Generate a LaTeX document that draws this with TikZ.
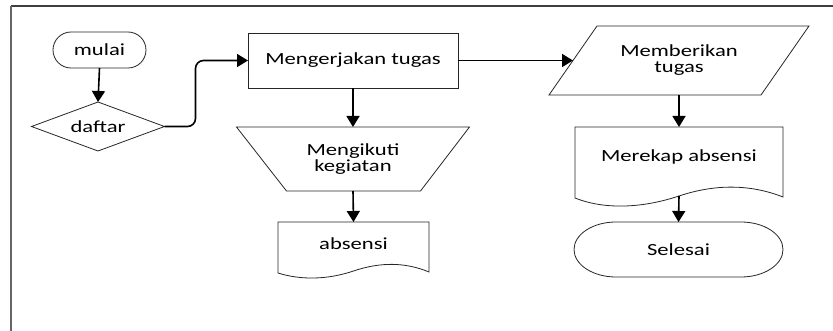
\documentclass[tikz,border=0pt]{standalone}
\usepackage{fontspec}
\setmainfont{Carlito}[FakeStretch=1.33]
\usetikzlibrary{arrows.meta,calc}
\tikzset{
  txt/.style={font=\fontsize{17}{16}\selectfont, inner sep=0pt, outer sep=0pt, align=center},
  shp/.style={draw=black!85, line width=0.8pt},
  arr/.style={line width=1.6pt, -{Triangle[width=13pt,length=11pt]}},
  frame/.style={line width=1.3pt}
}
\begin{document}
\begin{tikzpicture}[x=1pt,y=-1pt]
\useasboundingbox (0,0) rectangle (833,331);
% frame
\draw[frame, black!75] (833,6) -- (11,6);
\draw[frame, gray!80!black, line width=2pt] (11,6) -- (11,331);

% nodes
\node[txt, shp, minimum width=93, minimum height=36, rounded corners=18pt] (mulai) at (99.5,50) {mulai};

\node[txt, minimum width=133, minimum height=49] (daftar) at (98,126.5) {daftar};
\draw[shp] (daftar.west) -- (daftar.north) -- (daftar.east) -- (daftar.south) -- cycle;

\node[txt, shp, minimum width=210, minimum height=55] (mk) at (353,60.5) {Mengerjakan tugas};

\node[txt, minimum width=233, minimum height=64] (trap) at (353,159) {Mengikuti\\kegiatan};
\draw[shp] (trap.north west) -- (trap.north east) -- ($(trap.south east)+(-49,0)$) -- ($(trap.south west)+(50,0)$) -- cycle;

\node[txt, minimum width=151, minimum height=44] (abs) at (353.5,244) {absensi};
\draw[shp] (abs.north west) -- (abs.north east) -- (429,272)
  .. controls (405,262) and (380,262) .. (353.5,271)
  .. controls (327,280) and (300,280) .. (278,273) -- cycle;

\node[txt, minimum width=212, minimum height=69] (par) at (679,60.5) {Memberikan\\tugas};
\draw[shp] ($(par.north west)+(24,0)$) -- ($(par.north east)+(24,0)$) -- ($(par.south east)+(-24,0)$) -- ($(par.south west)+(-24,0)$) -- cycle;

\node[txt, minimum width=208, minimum height=60] (mr) at (679,157) {Merekap absensi};
\draw[shp] (mr.north west) -- (mr.north east) -- (783,197)
  .. controls (750,184) and (715,184) .. (679,196)
  .. controls (643,208) and (605,210) .. (575,198) -- cycle;
\coordinate (mrb) at ($(mr.south)+(0,9)$);

\node[txt, minimum width=209, minimum height=55] (sel) at (678.5,249.5) {Selesai};
\draw[shp] ($(sel.north west)+(42,0)$) -- ($(sel.north east)+(-42,0)$)
  arc[start angle=-90, end angle=90, x radius=42, y radius=27.5]
  -- ($(sel.south west)+(42,0)$)
  arc[start angle=90, end angle=270, x radius=42, y radius=27.5] -- cycle;

% connectors
\draw[arr] (mulai.south) -- (daftar.north);
\draw[arr, rounded corners=8pt] (daftar.east) -- ++(31,0) |- (mk.west);
\draw[arr] (mk.south) -- (trap.north);
\draw[arr] (trap.south) -- (abs.north);
\draw[arr] (mk.east) -- (par.west);
\draw[arr] (par.south) -- (mr.north);
\draw[arr] (mrb) -- (sel.north);
\end{tikzpicture}
\end{document}
